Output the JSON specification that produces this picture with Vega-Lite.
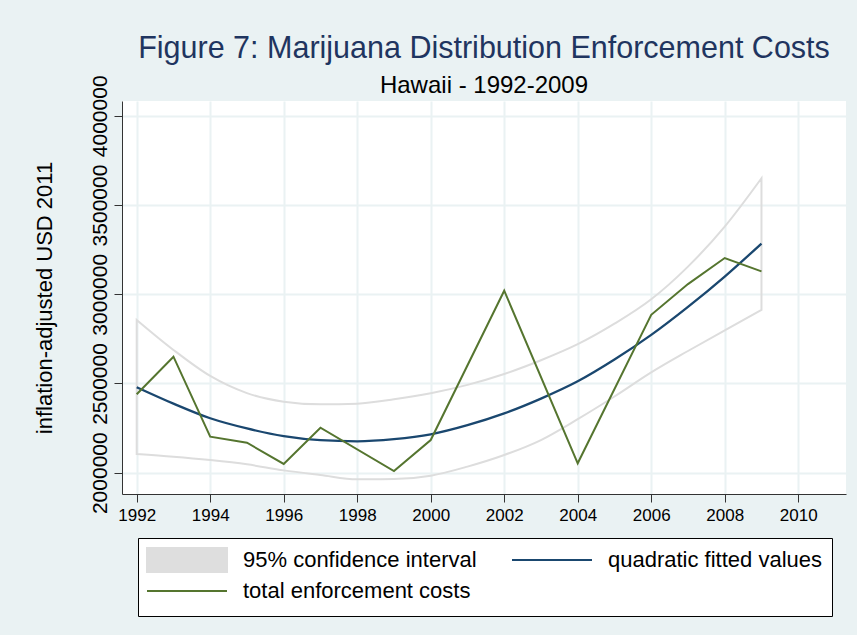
{
  "$schema": "https://vega.github.io/schema/vega-lite/v6.json",
  "width": 724,
  "height": 393,
  "autosize": "none",
  "padding": {"left": 122, "top": 101, "right": 11, "bottom": 141},
  "background": "#EAF2F3",
  "config": {
    "font": "Liberation Sans",
    "view": {"fill": "white", "stroke": null}
  },
  "title": {
    "text": "Figure 7: Marijuana Distribution Enforcement Costs",
    "subtitle": "Hawaii - 1992-2009",
    "font": "Liberation Sans",
    "subtitleFont": "Liberation Sans",
    "fontSize": 30.5,
    "subtitleFontSize": 24,
    "fontWeight": "normal",
    "subtitleFontWeight": "normal",
    "color": "#1F3560",
    "subtitleColor": "black",
    "anchor": "middle",
    "frame": "group",
    "offset": -23,
    "subtitlePadding": 9
  },
  "data": {
    "values": [
      {"year": 1992, "total": 2440000, "fit": 2479000, "lo": 2105000, "hi": 2856000},
      {"year": 1993, "total": 2650000, "fit": 2387000, "lo": 2090000, "hi": 2688000},
      {"year": 1994, "total": 2202000, "fit": 2305000, "lo": 2071000, "hi": 2542000},
      {"year": 1995, "total": 2168000, "fit": 2248000, "lo": 2047000, "hi": 2446000},
      {"year": 1996, "total": 2049000, "fit": 2205000, "lo": 2013000, "hi": 2398000},
      {"year": 1997, "total": 2252000, "fit": 2182000, "lo": 1987000, "hi": 2383000},
      {"year": 1998, "total": null, "fit": 2176000, "lo": 1963000, "hi": 2387000},
      {"year": 1999, "total": 2009500, "fit": 2188000, "lo": 1964000, "hi": 2411000},
      {"year": 2000, "total": 2183000, "fit": 2215000, "lo": 1983000, "hi": 2445000},
      {"year": 2001, "total": null, "fit": 2266000, "lo": 2034000, "hi": 2492000},
      {"year": 2002, "total": 3020000, "fit": 2332000, "lo": 2099000, "hi": 2553000},
      {"year": 2003, "total": null, "fit": 2415000, "lo": 2183000, "hi": 2630000},
      {"year": 2004, "total": 2052700, "fit": 2512000, "lo": 2300000, "hi": 2720000},
      {"year": 2005, "total": null, "fit": 2634000, "lo": 2427000, "hi": 2835000},
      {"year": 2006, "total": 2885000, "fit": 2772000, "lo": 2562000, "hi": 2972000},
      {"year": 2007, "total": 3057000, "fit": 2929000, "lo": 2682000, "hi": 3155000},
      {"year": 2008, "total": 3203000, "fit": 3099000, "lo": 2798000, "hi": 3379000},
      {"year": 2009, "total": 3128000, "fit": 3284000, "lo": 2912000, "hi": 3650000}
    ]
  },
  "encoding": {
    "x": {
      "field": "year",
      "type": "quantitative",
      "scale": {"domain": [1991.6, 2011.3], "nice": false, "zero": false},
      "axis": {
        "title": null,
        "values": [1992, 1994, 1996, 1998, 2000, 2002, 2004, 2006, 2008, 2010],
        "format": "d",
        "labelFont": "Liberation Sans",
        "labelFontSize": 17,
        "labelColor": "black",
        "labelPadding": 5,
        "labelFlush": false,
        "tickSize": 8,
        "tickColor": "#333333",
        "domainColor": "#333333",
        "grid": true,
        "gridColor": "#EAF2F3",
        "gridWidth": 2
      }
    }
  },
  "layer": [
    {
      "mark": {"type": "area", "interpolate": "monotone", "fillOpacity": 0, "stroke": "#DDDDDD", "strokeWidth": 2},
      "encoding": {
        "y": {
          "field": "lo",
          "type": "quantitative",
          "title": "inflation-adjusted USD 2011",
          "scale": {"domain": [1880600, 4083000], "nice": false, "zero": false},
          "axis": {
            "values": [2000000, 2500000, 3000000, 3500000, 4000000],
            "format": "d",
            "labelFont": "Liberation Sans",
            "labelFontSize": 21,
            "labelColor": "black",
            "labelAngle": -90,
            "labelAlign": "center",
            "labelBaseline": "bottom",
            "labelPadding": 4,
            "labelFlush": false,
            "labelOverlap": false,
            "tickSize": 8,
            "tickColor": "#333333",
            "domainColor": "#333333",
            "grid": true,
            "gridColor": "#EAF2F3",
            "gridWidth": 2,
            "titleFont": "Liberation Sans",
            "titleFontSize": 22,
            "titleFontWeight": "normal",
            "titleColor": "black",
            "titlePadding": 33
          }
        },
        "y2": {"field": "hi"},
        "color": {
          "datum": "95% confidence interval",
          "scale": {
            "domain": ["95% confidence interval", "quadratic fitted values", "total enforcement costs"],
            "range": ["#DEDEDE", "#1A476F", "#55752F"]
          },
          "legend": {
            "title": null,
            "orient": "none",
            "legendX": 16,
            "legendY": 437,
            "direction": "horizontal",
            "columns": 2,
            "gridAlign": "each",
            "columnPadding": 31,
            "rowPadding": -1,
            "padding": 9,
            "fillColor": "white",
            "strokeColor": "black",
            "symbolSize": 576,
            "symbolOffset": 27,
            "symbolStrokeWidth": 2,
            "labelOffset": 43,
            "labelFont": "Liberation Sans",
            "labelFontSize": 22,
            "labelColor": "black",
            "labelLimit": 400,
            "encode": {
              "symbols": {
                "update": {
                  "shape": {"signal": "datum.value === '95% confidence interval' ? 'M-3.333,-1H3.333V1H-3.333Z' : 'M-3.333,-1M-3.333,0H3.333M3.333,1'"},
                  "fill": {"signal": "datum.value === '95% confidence interval' ? '#DEDEDE' : 'transparent'"},
                  "stroke": {"signal": "datum.value === '95% confidence interval' ? 'transparent' : (datum.value === 'quadratic fitted values' ? '#1A476F' : '#55752F')"},
                  "strokeWidth": {"value": 2},
                  "opacity": {"value": 1},
                  "fillOpacity": {"value": 1},
                  "strokeOpacity": {"value": 1}
                }
              }
            }
          }
        }
      }
    },
    {
      "mark": {"type": "line", "interpolate": "monotone", "strokeWidth": 2.3},
      "encoding": {
        "y": {"field": "fit", "type": "quantitative", "title": "inflation-adjusted USD 2011"},
        "color": {
          "datum": "quadratic fitted values",
          "legend": {
            "title": null,
            "orient": "none",
            "legendX": 16,
            "legendY": 437,
            "direction": "horizontal",
            "columns": 2,
            "gridAlign": "each",
            "columnPadding": 31,
            "rowPadding": -1,
            "padding": 9,
            "fillColor": "white",
            "strokeColor": "black",
            "symbolSize": 576,
            "symbolOffset": 27,
            "symbolStrokeWidth": 2,
            "labelOffset": 43,
            "labelFont": "Liberation Sans",
            "labelFontSize": 22,
            "labelColor": "black",
            "labelLimit": 400,
            "encode": {
              "symbols": {
                "update": {
                  "shape": {"signal": "datum.value === '95% confidence interval' ? 'M-3.333,-1H3.333V1H-3.333Z' : 'M-3.333,-1M-3.333,0H3.333M3.333,1'"},
                  "fill": {"signal": "datum.value === '95% confidence interval' ? '#DEDEDE' : 'transparent'"},
                  "stroke": {"signal": "datum.value === '95% confidence interval' ? 'transparent' : (datum.value === 'quadratic fitted values' ? '#1A476F' : '#55752F')"},
                  "strokeWidth": {"value": 2},
                  "opacity": {"value": 1},
                  "fillOpacity": {"value": 1},
                  "strokeOpacity": {"value": 1}
                }
              }
            }
          }
        }
      }
    },
    {
      "transform": [{"filter": "isValid(datum.total)"}],
      "mark": {"type": "line", "strokeWidth": 2},
      "encoding": {
        "y": {"field": "total", "type": "quantitative", "title": "inflation-adjusted USD 2011"},
        "color": {
          "datum": "total enforcement costs",
          "legend": {
            "title": null,
            "orient": "none",
            "legendX": 16,
            "legendY": 437,
            "direction": "horizontal",
            "columns": 2,
            "gridAlign": "each",
            "columnPadding": 31,
            "rowPadding": -1,
            "padding": 9,
            "fillColor": "white",
            "strokeColor": "black",
            "symbolSize": 576,
            "symbolOffset": 27,
            "symbolStrokeWidth": 2,
            "labelOffset": 43,
            "labelFont": "Liberation Sans",
            "labelFontSize": 22,
            "labelColor": "black",
            "labelLimit": 400,
            "encode": {
              "symbols": {
                "update": {
                  "shape": {"signal": "datum.value === '95% confidence interval' ? 'M-3.333,-1H3.333V1H-3.333Z' : 'M-3.333,-1M-3.333,0H3.333M3.333,1'"},
                  "fill": {"signal": "datum.value === '95% confidence interval' ? '#DEDEDE' : 'transparent'"},
                  "stroke": {"signal": "datum.value === '95% confidence interval' ? 'transparent' : (datum.value === 'quadratic fitted values' ? '#1A476F' : '#55752F')"},
                  "strokeWidth": {"value": 2},
                  "opacity": {"value": 1},
                  "fillOpacity": {"value": 1},
                  "strokeOpacity": {"value": 1}
                }
              }
            }
          }
        }
      }
    }
  ]
}
